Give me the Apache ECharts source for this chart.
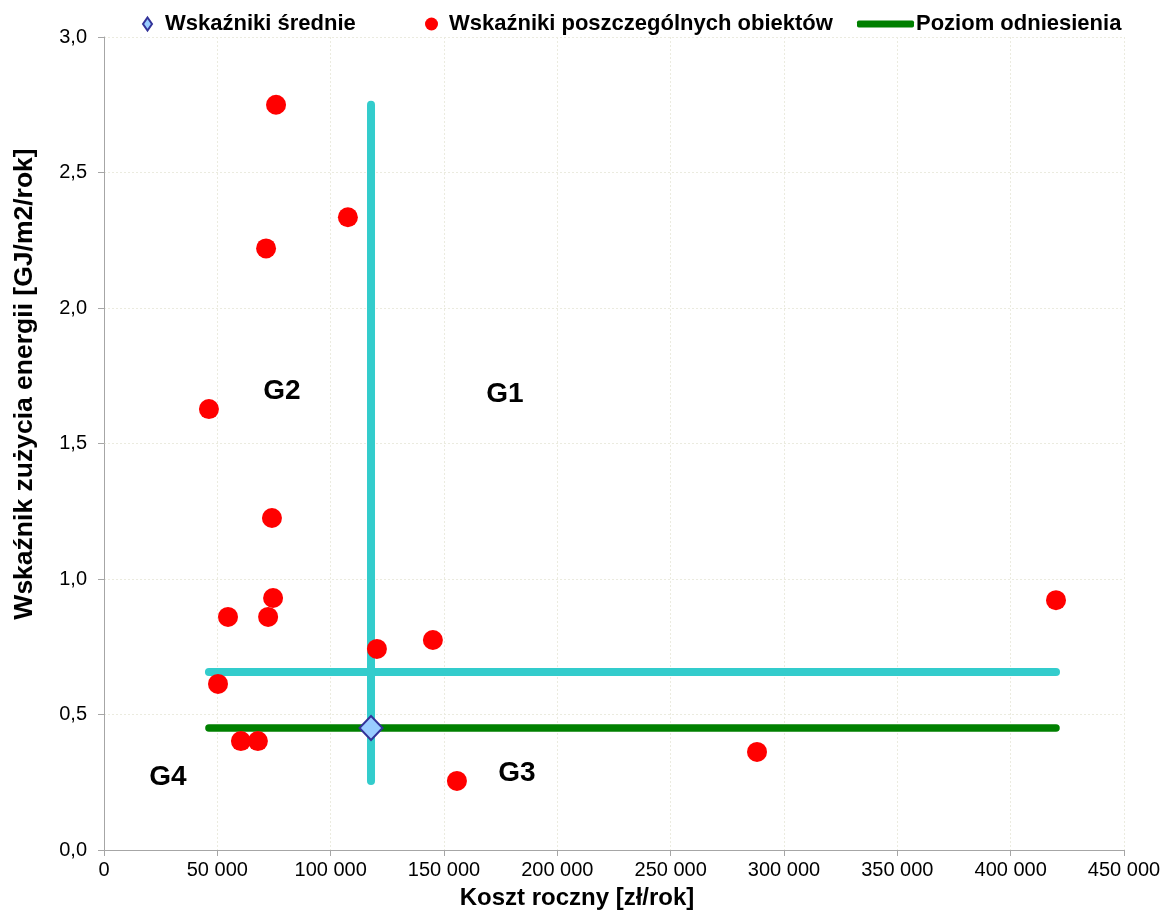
<!DOCTYPE html>
<html>
<head>
<meta charset="utf-8">
<script src="https://cdn.jsdelivr.net/npm/echarts@6/dist/echarts.min.js"></script>
<style>
  html, body { margin: 0; padding: 0; background: #ffffff; }
  #chart { width: 1171px; height: 914px; }
</style>
</head>
<body>
<div id="chart"></div>
<script>
// Koszt roczny [zł/rok] i wskaźnik zużycia energii [GJ/m2/rok] poszczególnych obiektów
const objectCost  = [75900, 107600, 71500, 46300, 74100, 74600, 54700, 72400, 120400, 145100, 420000, 50300, 60400, 67900, 288100, 155700];
const objectIndex = [2.75, 2.335, 2.22, 1.627, 1.225, 0.93, 0.86, 0.86, 0.742, 0.775, 0.922, 0.613, 0.402, 0.402, 0.362, 0.255];

// Wskaźniki średnie
const meanCost  = [117800];
const meanIndex = [0.45];

// Poziom odniesienia i linia podziału na grupy
const referenceLevel = 0.45;
const dividerIndex = 0.657;

// Nazwy grup i miejsca ich opisów (w jednostkach osi)
const groupNames = ['G1', 'G2', 'G3', 'G4'];
const groupLabelCost  = [176900, 78500, 182200, 28200];
const groupLabelIndex = [1.682, 1.692, 0.284, 0.267];

const FONT = "'Liberation Sans', Arial, sans-serif";

const minCost = Math.min(...objectCost);
const maxCost = Math.max(...objectCost);
const minIndex = Math.min(...objectIndex);
const maxIndex = Math.max(...objectIndex);

const pts = objectCost.map((c, i) => [c, objectIndex[i]]);
const meanPts = meanCost.map((c, i) => [c, meanIndex[i]]);

function fmtThousands(v) {
  return String(v).replace(/\B(?=(\d{3})+(?!\d))/g, ' ');
}

const gridColor = '#ebebdf';
const axisColor = '#a6a6a6';

const chart = echarts.init(document.getElementById('chart'), null, { renderer: 'canvas' });

const titleGraphics = [
  {
    id: 'ytitle',
    type: 'text',
    x: 25, y: 384,
    rotation: Math.PI / 2,
    style: {
      text: 'Wskaźnik zużycia energii [GJ/m2/rok]',
      font: "bold 26.5px 'Liberation Sans', Arial, sans-serif",
      fill: '#000',
      align: 'center',
      verticalAlign: 'middle'
    }
  },
  {
    id: 'xtitle',
    type: 'text',
    x: 577, y: 898,
    style: {
      text: 'Koszt roczny [zł/rok]',
      font: "bold 24px 'Liberation Sans', Arial, sans-serif",
      fill: '#000',
      align: 'center',
      verticalAlign: 'middle'
    }
  }
];

chart.setOption({
  backgroundColor: '#ffffff',
  animation: false,
  textStyle: { fontFamily: FONT },
  grid: { left: 104, right: 47, top: 37, bottom: 64, containLabel: false },
  legend: [
    {
      left: 137, top: 8,
      data: [{ name: 'Wskaźniki średnie', icon: 'diamond' }],
      itemWidth: 9, itemHeight: 13,
      textStyle: { fontFamily: FONT, fontSize: 22, fontWeight: 'bold', color: '#000', padding: [0, 0, 0, 8] },
      selectedMode: false
    },
    {
      left: 420, top: 8,
      data: [{ name: 'Wskaźniki poszczególnych obiektów', icon: 'circle' }],
      itemWidth: 13, itemHeight: 13,
      textStyle: { fontFamily: FONT, fontSize: 22, fontWeight: 'bold', color: '#000', padding: [0, 0, 0, 6] },
      selectedMode: false
    },
    {
      left: 852, top: 8,
      data: [{ name: 'Poziom odniesienia', icon: 'roundRect' }],
      itemWidth: 57, itemHeight: 7,
      textStyle: { fontFamily: FONT, fontSize: 22, fontWeight: 'bold', color: '#000', padding: [0, 0, 0, -3] },
      selectedMode: false
    }
  ],
  xAxis: {
    type: 'value',
    min: 0, max: 450000, interval: 50000,
    axisLine: { show: true, onZero: false, lineStyle: { color: axisColor, width: 1 } },
    axisTick: { show: true, length: 6, lineStyle: { color: axisColor } },
    axisLabel: { fontFamily: FONT, fontSize: 20, color: '#000', margin: 10, formatter: fmtThousands },
    splitLine: { show: true, lineStyle: { color: gridColor, width: 1, type: [2, 2] } }
  },
  yAxis: {
    type: 'value',
    min: 0, max: 3, interval: 0.5,
    axisLine: { show: true, onZero: false, lineStyle: { color: axisColor, width: 1 } },
    axisTick: { show: true, length: 6, lineStyle: { color: axisColor } },
    axisLabel: { fontFamily: FONT, fontSize: 20, color: '#000', margin: 17,
      formatter: v => v.toFixed(1).replace('.', ',') },
    splitLine: { show: true, lineStyle: { color: gridColor, width: 1, type: [2, 2] } }
  },
  graphic: titleGraphics,
  series: [
    {
      name: 'divider-h',
      type: 'line',
      data: [[minCost, dividerIndex], [maxCost, dividerIndex]],
      symbol: 'none',
      silent: true,
      z: 2,
      lineStyle: { color: '#33CCCC', width: 8, cap: 'round' }
    },
    {
      name: 'divider-v',
      type: 'line',
      data: [[meanCost[0], minIndex], [meanCost[0], maxIndex]],
      symbol: 'none',
      silent: true,
      z: 2,
      lineStyle: { color: '#33CCCC', width: 8, cap: 'round' }
    },
    {
      name: 'Poziom odniesienia',
      type: 'line',
      data: [[minCost, referenceLevel], [maxCost, referenceLevel]],
      symbol: 'none',
      silent: true,
      z: 3,
      itemStyle: { color: '#008000' },
      lineStyle: { color: '#008000', width: 7.5, cap: 'round' }
    },
    {
      name: 'Wskaźniki poszczególnych obiektów',
      type: 'scatter',
      data: pts,
      symbol: 'circle',
      symbolSize: 20,
      z: 4,
      itemStyle: { color: '#FF0000', opacity: 1 }
    },
    {
      name: 'Wskaźniki średnie',
      type: 'scatter',
      data: meanPts,
      symbol: 'diamond',
      symbolSize: [23, 24],
      z: 5,
      itemStyle: { color: '#99CCFF', borderColor: '#333399', borderWidth: 2, opacity: 1 }
    }
  ]
});

// Opisy grup G1–G4 umieszczone według współrzędnych osi
const groupGraphics = groupNames.map((n, i) => {
  const p = chart.convertToPixel({ gridIndex: 0 }, [groupLabelCost[i], groupLabelIndex[i]]);
  return {
    id: 'group-' + n,
    type: 'text',
    x: p[0], y: p[1],
    z: 100,
    style: {
      text: n,
      font: "bold 28px 'Liberation Sans', Arial, sans-serif",
      fill: '#000',
      align: 'center',
      verticalAlign: 'middle'
    }
  };
});
chart.setOption({ graphic: titleGraphics.concat(groupGraphics) });
</script>
</body>
</html>
